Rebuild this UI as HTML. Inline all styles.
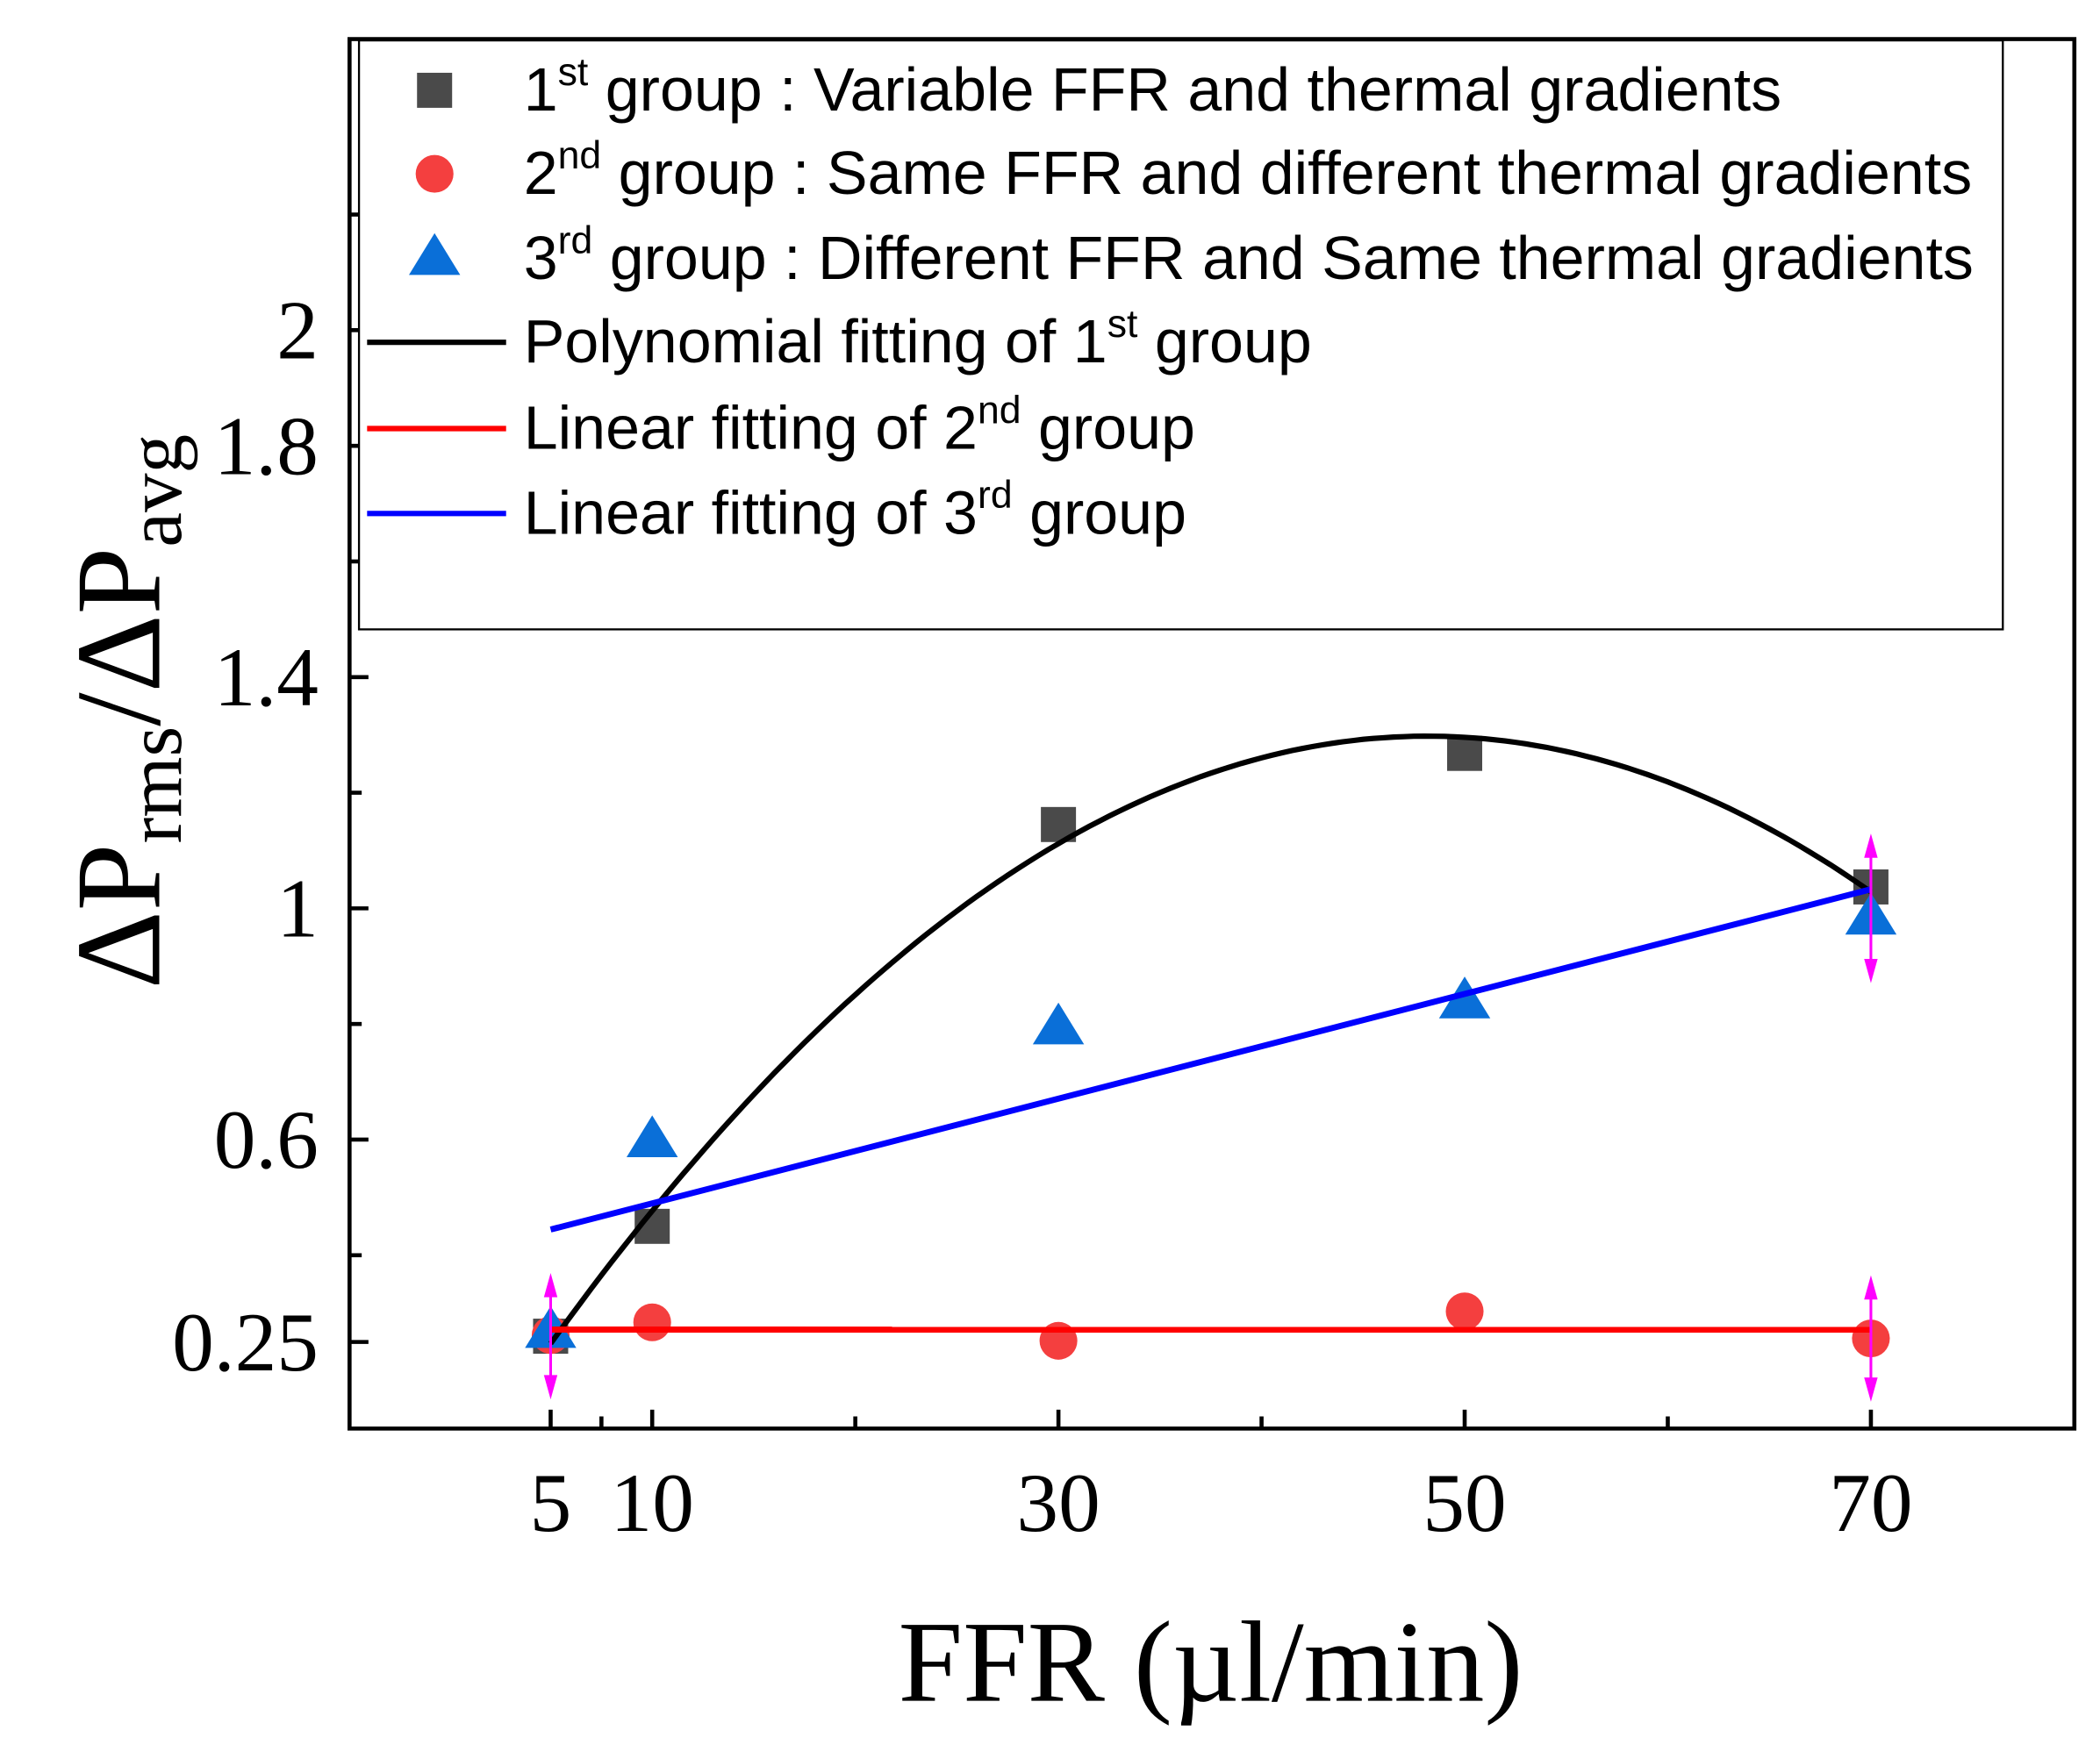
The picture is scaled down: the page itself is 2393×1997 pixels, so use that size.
<!DOCTYPE html>
<html><head><meta charset="utf-8"><style>
html,body{margin:0;padding:0;background:#fff;}
svg{display:block;}
.tk{font-family:"Liberation Serif",serif;font-size:62px;fill:#000;}
.lg{font-family:"Liberation Sans",sans-serif;font-size:45.5px;fill:#000;}
</style></head><body>
<svg id="chart" width="2393" height="1997" viewBox="0 0 1556 1300" preserveAspectRatio="none" xmlns="http://www.w3.org/2000/svg">
<rect x="0" y="0" width="1556" height="1300" fill="#fff"/>
<g id="plot"></g>
<rect x="259" y="29" width="1278" height="1031" fill="none" stroke="#000" stroke-width="3"/>
<g id="ticks"></g>
<text x="897" y="1262" text-anchor="middle" font-family="Liberation Serif,serif" font-size="86">FFR (µl/min)</text>
<text transform="translate(118,528) rotate(-90)" text-anchor="middle" font-family="Liberation Serif,serif" font-size="90">ΔP<tspan font-size="58" dy="16">rms</tspan><tspan dy="-16">/ΔP</tspan><tspan font-size="58" dy="16">avg</tspan></text>
<g>
<rect x="266" y="30" width="1218" height="437" fill="#fff" stroke="#000" stroke-width="1.5"/>
<rect x="309" y="54" width="26" height="26" fill="#4a4a4a"/>
<text class="lg" x="388" y="82">1<tspan font-size="29" dy="-19">st</tspan><tspan dy="19"> group : Variable FFR and thermal gradients</tspan></text>
<circle cx="322" cy="129" r="14" fill="#f43f3f"/>
<text class="lg" x="388" y="144">2<tspan font-size="29" dy="-19">nd</tspan><tspan dy="19"> group : Same FFR and different thermal gradients</tspan></text>
<polygon points="322,173 341,204 303,204" fill="#0a6fd8"/>
<text class="lg" x="388" y="207">3<tspan font-size="29" dy="-19">rd</tspan><tspan dy="19"> group : Different FFR and Same thermal gradients</tspan></text>
<line x1="272" y1="254" x2="375" y2="254" stroke="#000" stroke-width="4"/>
<text class="lg" x="388" y="269">Polynomial fitting of 1<tspan font-size="29" dy="-19">st</tspan><tspan dy="19"> group</tspan></text>
<line x1="272" y1="318" x2="375" y2="318" stroke="#f00" stroke-width="4"/>
<text class="lg" x="388" y="333">Linear fitting of 2<tspan font-size="29" dy="-19">nd</tspan><tspan dy="19"> group</tspan></text>
<line x1="272" y1="381" x2="375" y2="381" stroke="#00f" stroke-width="4"/>
<text class="lg" x="388" y="396">Linear fitting of 3<tspan font-size="29" dy="-19">rd</tspan><tspan dy="19"> group</tspan></text>
</g>
</svg>
<script>
const ffr = [5, 10, 30, 50, 70];
const group1 = [0.26, 0.45, 1.145, 1.268, 1.037];
const group2 = [0.262, 0.284, 0.252, 0.303, 0.256];
const group3 = [0.27, 0.60, 0.795, 0.84, 0.985];
const xTickValues = [5, 10, 30, 50, 70];
const xTickLabels = ["5", "10", "30", "50", "70"];
const xMinorTicks = [7.5, 20, 40, 60];
const yTickValues = [0.25, 0.6, 1, 1.4, 1.8, 2];
const yTickLabels = ["0.25", "0.6", "1", "1.4", "1.8", "2"];
const yMinorTicks = [0.4, 0.8, 1.2, 1.6, 2.2];
const errorBarX = [5, 70, 70];
const errorBarY = [0.26, 1.0, 0.256];
const errorBarHalf = [0.1, 0.12, 0.1];

const NS = "http://www.w3.org/2000/svg";
function X(v){ return 408 + (v - 5) * 15.05; }
function Y(v){ return 674 - (v - 1) * 429; }
function mk(tag, attrs, parent){ const e = document.createElementNS(NS, tag); for (const k in attrs) e.setAttribute(k, attrs[k]); parent.appendChild(e); return e; }
const plot = document.getElementById('plot');
const ticks = document.getElementById('ticks');

function linFit(xs, ys){ const n=xs.length; const mx=xs.reduce((a,b)=>a+b)/n, my=ys.reduce((a,b)=>a+b)/n; let sxy=0,sxx=0; for(let i=0;i<n;i++){sxy+=(xs[i]-mx)*(ys[i]-my);sxx+=(xs[i]-mx)**2;} const b=sxy/sxx; return [my-b*mx,b]; }
function quadFit(xs, ys){ let S=[0,0,0,0,0],T=[0,0,0]; for(let i=0;i<xs.length;i++){for(let k=0;k<5;k++)S[k]+=xs[i]**k;for(let k=0;k<3;k++)T[k]+=ys[i]*xs[i]**k;}
 const A=[[S[0],S[1],S[2],T[0]],[S[1],S[2],S[3],T[1]],[S[2],S[3],S[4],T[2]]];
 for(let i=0;i<3;i++){for(let j=i+1;j<3;j++){const f=A[j][i]/A[i][i];for(let k=i;k<4;k++)A[j][k]-=f*A[i][k];}}
 const c=[0,0,0]; for(let i=2;i>=0;i--){let s=A[i][3];for(let k=i+1;k<3;k++)s-=A[i][k]*c[k];c[i]=s/A[i][i];} return c; }

const q = quadFit(ffr, group1);
let d = "";
for (let v = ffr[0]; v <= ffr[ffr.length-1] + 0.001; v += 0.5){ const y = q[0]+q[1]*v+q[2]*v*v; d += (d ? "L" : "M") + X(v).toFixed(1) + "," + Y(y).toFixed(1); }
const l2 = linFit(ffr, group2), l3 = linFit(ffr, group3);
const x0 = ffr[0], x1 = ffr[ffr.length-1];

ffr.forEach((v,i)=>{ const r = mk('rect',{x:X(v)-13,y:Y(group1[i])-13,width:26,height:26,fill:'#4a4a4a'},plot);

 });
ffr.forEach((v,i)=>{ const c = mk('circle',{cx:X(v),cy:Y(group2[i]),r:14,fill:'#f43f3f'},plot);

 });
ffr.forEach((v,i)=>{ const cx=X(v), cy=Y(group3[i]); const t = mk('polygon',{points:`${cx},${cy-18} ${cx+19},${cy+13} ${cx-19},${cy+13}`,fill:'#0a6fd8'},plot);

 });

const pf = mk('path',{d:d,fill:'none',stroke:'#000','stroke-width':4},plot);


const rf = mk('line',{x1:X(x0),y1:Y(l2[0]+l2[1]*x0),x2:X(x1),y2:Y(l2[0]+l2[1]*x1),stroke:'#f00','stroke-width':4.5},plot);


const bf = mk('line',{x1:X(x0),y1:Y(l3[0]+l3[1]*x0),x2:X(x1),y2:Y(l3[0]+l3[1]*x1),stroke:'#00f','stroke-width':4.5},plot);



errorBarX.forEach((v,i)=>{ const cx=X(v), yt=Y(errorBarY[i]+errorBarHalf[i]), yb=Y(errorBarY[i]-errorBarHalf[i]);
 const g = mk('g',{},plot);
 
 
 mk('line',{x1:cx,y1:yt,x2:cx,y2:yb,stroke:'#ff00ff','stroke-width':2},g);
 mk('polygon',{points:`${cx},${yt-4} ${cx+5},${yt+14} ${cx-5},${yt+14}`,fill:'#ff00ff'},g);
 mk('polygon',{points:`${cx},${yb+4} ${cx+5},${yb-14} ${cx-5},${yb-14}`,fill:'#ff00ff'},g);
});

xTickValues.forEach((v,i)=>{ const t = mk('line',{x1:X(v),y1:1060,x2:X(v),y2:1046,stroke:'#000','stroke-width':3},ticks);


const tx = mk('text',{x:X(v),y:1136,'text-anchor':'middle',class:'tk'},ticks); tx.textContent = xTickLabels[i];

 });
xMinorTicks.forEach(v=>{ const t = mk('line',{x1:X(v),y1:1060,x2:X(v),y2:1051,stroke:'#000','stroke-width':3},ticks);

 });
yTickValues.forEach((v,i)=>{ const t = mk('line',{x1:259,y1:Y(v),x2:273,y2:Y(v),stroke:'#000','stroke-width':3},ticks);


const tx = mk('text',{x:236,y:Y(v)+21,'text-anchor':'end',class:'tk'},ticks); tx.textContent = yTickLabels[i];

 });
yMinorTicks.forEach(v=>{ const t = mk('line',{x1:259,y1:Y(v),x2:268,y2:Y(v),stroke:'#000','stroke-width':3},ticks);

 });
</script>
</body></html>
